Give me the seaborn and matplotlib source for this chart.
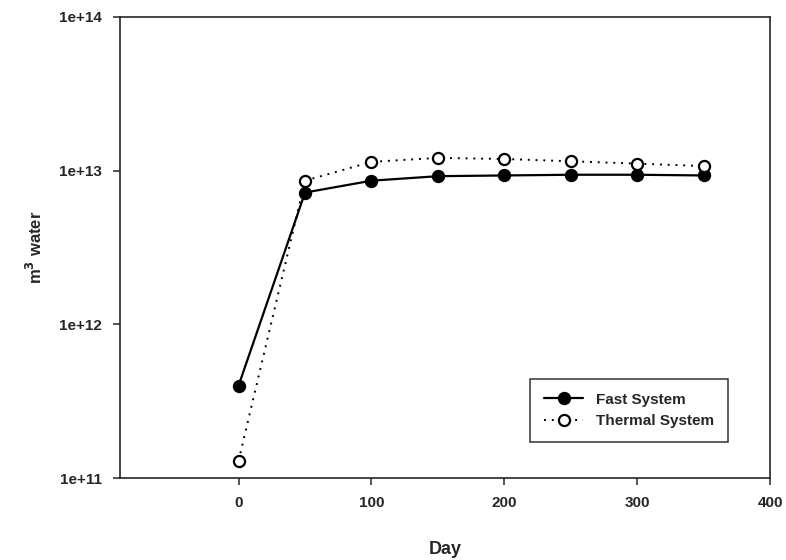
import numpy as np
import pandas as pd
import matplotlib
matplotlib.use("Agg")
import matplotlib.pyplot as plt
import matplotlib.ticker as mticker
import seaborn as sns

sns.set_style("ticks")
plt.rcParams.update({
    "font.family": ["Liberation Sans", "DejaVu Sans"],
    "font.weight": "bold",
    "axes.linewidth": 1.2,
})

# data
days = [0, 50, 100, 150, 200, 250, 300, 350]
fast_system = [4.0e11, 7.2e12, 8.6e12, 9.2e12, 9.3e12, 9.4e12, 9.4e12, 9.3e12]
thermal_system = [1.3e11, 8.6e12, 1.14e13, 1.21e13, 1.19e13, 1.15e13, 1.11e13, 1.07e13]
series_names = ["Fast System", "Thermal System"]

df = pd.DataFrame({
    "Day": days * 2,
    "water": fast_system + thermal_system,
    "System": [series_names[0]] * len(days) + [series_names[1]] * len(days),
})

fig, ax = plt.subplots(figsize=(7.86, 5.6), dpi=100)
fig.subplots_adjust(left=0.153, right=0.98, top=0.97, bottom=0.146)

styles = {
    "Fast System": dict(ls="-", mfc="black", lw=1.6),
    "Thermal System": dict(ls=(0, (1, 3)), mfc="white", lw=1.4),
}
for name in series_names:
    sub = df[df["System"] == name]
    st = styles[name]
    sns.lineplot(data=sub, x="Day", y="water", ax=ax, color="black",
                 linestyle=st["ls"], linewidth=st["lw"], marker="o",
                 markersize=8, markerfacecolor=st["mfc"],
                 markeredgecolor="black", markeredgewidth=1.6,
                 label=name, errorbar=None)

ax.set_yscale("log")
ax.set_ylim(1e11, 1e14)
ax.set_xlim(-89, 400)
ax.set_xticks([0, 100, 200, 300, 400])
ax.yaxis.set_major_locator(mticker.LogLocator(base=10, numticks=10))
ax.yaxis.set_minor_locator(mticker.NullLocator())
ax.yaxis.set_major_formatter(mticker.FuncFormatter(lambda v, _: f"{v:.0e}"))
ax.tick_params(axis="both", direction="out", length=5, width=1.1, labelsize=11, pad=8)
for lab in ax.get_xticklabels() + ax.get_yticklabels():
    lab.set_fontweight("bold")

ax.set_xlabel("Day", fontsize=13, fontweight="bold", labelpad=22)
ax.set_ylabel("m$^\\mathbf{3}$ water", fontsize=12, fontweight="bold", labelpad=10)

leg = ax.legend(loc="lower right", bbox_to_anchor=(0.946, 0.062), frameon=True,
                fancybox=False, edgecolor="black", fontsize=11,
                handlelength=2.6, borderpad=0.9, labelspacing=0.5)
leg.get_frame().set_linewidth(1.1)
for t in leg.get_texts():
    t.set_fontweight("bold")

fig.savefig("out.png", dpi=100)
